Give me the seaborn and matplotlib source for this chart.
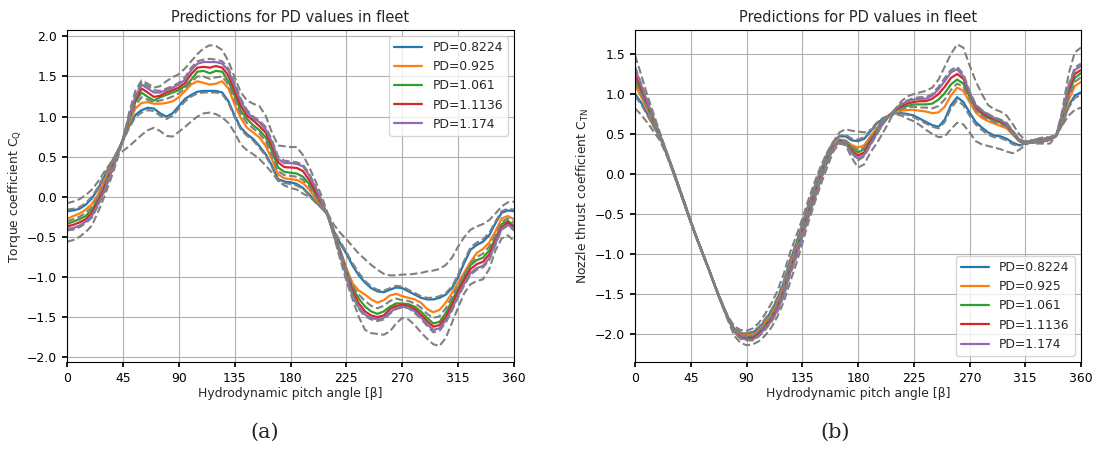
import numpy as np
import pandas as pd
import matplotlib
matplotlib.use("Agg")
import matplotlib.pyplot as plt
import seaborn as sns

ANGLES = list(range(0, 361, 5))
PD_LABELS = ["PD=0.8224", "PD=0.925", "PD=1.061", "PD=1.1136", "PD=1.174"]
REF_LABELS = ["PD=0.6", "PD=0.8", "PD=1.0", "PD=1.2", "PD=1.4"]
XTICKS = [0, 45, 90, 135, 180, 225, 270, 315, 360]
YTICKS_A = [-2.0, -1.5, -1.0, -0.5, 0.0, 0.5, 1.0, 1.5, 2.0]
YTICKS_B = [-2.0, -1.5, -1.0, -0.5, 0.0, 0.5, 1.0, 1.5]

# ---------------- Panel (a): torque coefficient CQ ----------------
cq_0_8224 = [-0.18,-0.17,-0.15,-0.10,-0.02,0.10,0.25,0.40,0.55,0.70,
             0.88,1.02,1.08,1.11,1.10,1.04,1.00,1.04,1.13,1.22,
             1.27,1.31,1.32,1.32,1.32,1.30,1.19,1.01,0.86,0.78,
             0.72,0.63,0.53,0.39,0.22,0.19,0.18,0.16,0.11,0.03,
             -0.06,-0.14,-0.22,-0.43,-0.58,-0.71,-0.86,-0.98,-1.07,-1.14,
             -1.18,-1.19,-1.16,-1.13,-1.14,-1.18,-1.22,-1.26,-1.28,-1.28,
             -1.26,-1.22,-1.14,-1.00,-0.82,-0.66,-0.60,-0.56,-0.48,-0.33,
             -0.20,-0.17,-0.18]
cq_0_925 = [-0.28,-0.24,-0.21,-0.16,-0.09,0.03,0.20,0.37,0.53,0.70,
            0.92,1.10,1.17,1.18,1.16,1.16,1.17,1.19,1.24,1.32,
            1.40,1.44,1.42,1.40,1.41,1.44,1.35,1.15,0.98,0.86,
            0.80,0.74,0.63,0.47,0.28,0.23,0.22,0.21,0.17,0.09,
            -0.02,-0.12,-0.23,-0.45,-0.66,-0.89,-1.08,-1.17,-1.22,-1.28,
            -1.32,-1.29,-1.23,-1.21,-1.24,-1.26,-1.28,-1.32,-1.40,-1.44,
            -1.41,-1.32,-1.20,-1.07,-0.94,-0.81,-0.70,-0.65,-0.57,-0.43,
            -0.27,-0.24,-0.28]
cq_1_061 = [-0.34,-0.31,-0.28,-0.24,-0.16,-0.03,0.14,0.33,0.51,0.71,
            0.96,1.18,1.30,1.245,1.20,1.24,1.27,1.30,1.33,1.38,
            1.46,1.56,1.57,1.54,1.57,1.56,1.44,1.26,1.07,0.97,
            0.89,0.83,0.74,0.57,0.365,0.31,0.30,0.29,0.25,0.16,
            0.03,-0.10,-0.23,-0.46,-0.68,-0.92,-1.14,-1.27,-1.37,-1.43,
            -1.46,-1.43,-1.37,-1.33,-1.33,-1.34,-1.37,-1.43,-1.51,-1.58,
            -1.56,-1.45,-1.30,-1.14,-0.99,-0.85,-0.79,-0.76,-0.67,-0.52,
            -0.34,-0.30,-0.36]
cq_1_1136 = [-0.37,-0.35,-0.32,-0.28,-0.20,-0.06,0.11,0.31,0.50,0.72,
             0.98,1.21,1.35,1.30,1.245,1.26,1.30,1.33,1.36,1.42,
             1.53,1.61,1.62,1.61,1.63,1.61,1.51,1.32,1.13,1.01,
             0.95,0.88,0.80,0.63,0.43,0.37,0.365,0.36,0.32,0.21,
             0.07,-0.08,-0.24,-0.47,-0.70,-0.95,-1.18,-1.33,-1.43,-1.48,
             -1.50,-1.48,-1.40,-1.36,-1.35,-1.36,-1.40,-1.47,-1.55,-1.62,
             -1.60,-1.50,-1.35,-1.18,-1.03,-0.90,-0.84,-0.81,-0.72,-0.55,
             -0.38,-0.32,-0.38]
cq_1_174 = [-0.40,-0.39,-0.36,-0.31,-0.24,-0.09,0.07,0.28,0.48,0.72,
            1.00,1.24,1.40,1.35,1.30,1.30,1.33,1.36,1.40,1.46,
            1.58,1.66,1.68,1.68,1.68,1.66,1.57,1.38,1.19,1.05,
            0.98,0.93,0.84,0.68,0.47,0.42,0.42,0.41,0.38,0.27,
            0.12,-0.06,-0.24,-0.48,-0.72,-0.98,-1.22,-1.38,-1.47,-1.51,
            -1.53,-1.51,-1.44,-1.39,-1.37,-1.38,-1.43,-1.50,-1.59,-1.66,
            -1.64,-1.54,-1.40,-1.23,-1.08,-0.95,-0.89,-0.86,-0.77,-0.58,
            -0.40,-0.35,-0.40]
cq_ref_0_6 = [-0.08,-0.06,-0.03,0.02,0.09,0.19,0.31,0.42,0.51,0.57,
              0.63,0.70,0.77,0.83,0.86,0.82,0.76,0.75,0.81,0.87,
              0.94,1.00,1.04,1.05,1.03,0.99,0.92,0.80,0.65,0.58,
              0.53,0.47,0.39,0.30,0.20,0.14,0.11,0.09,0.04,0.00,
              -0.06,-0.13,-0.21,-0.35,-0.45,-0.53,-0.62,-0.71,-0.78,-0.85,
              -0.91,-0.96,-0.98,-0.98,-0.97,-0.97,-0.96,-0.95,-0.93,-0.92,
              -0.90,-0.85,-0.76,-0.62,-0.50,-0.41,-0.37,-0.34,-0.29,-0.21,
              -0.12,-0.07,-0.06]
cq_ref_0_8 = [-0.16,-0.15,-0.13,-0.08,0.00,0.12,0.27,0.41,0.55,0.69,
              0.86,0.99,1.05,1.08,1.07,1.01,0.97,1.01,1.10,1.19,
              1.25,1.29,1.30,1.30,1.30,1.28,1.17,0.99,0.84,0.76,
              0.70,0.61,0.51,0.37,0.20,0.17,0.16,0.14,0.10,0.02,
              -0.07,-0.14,-0.22,-0.42,-0.56,-0.69,-0.83,-0.95,-1.05,-1.12,
              -1.16,-1.17,-1.14,-1.11,-1.12,-1.16,-1.20,-1.24,-1.26,-1.26,
              -1.24,-1.20,-1.12,-0.97,-0.79,-0.63,-0.57,-0.53,-0.45,-0.31,
              -0.18,-0.15,-0.16]
cq_ref_1_0 = [-0.31,-0.28,-0.25,-0.20,-0.13,0.00,0.17,0.35,0.52,0.71,
              0.94,1.14,1.24,1.21,1.18,1.20,1.22,1.25,1.29,1.35,
              1.43,1.50,1.50,1.47,1.49,1.50,1.40,1.21,1.03,0.92,
              0.85,0.79,0.69,0.52,0.32,0.27,0.26,0.25,0.21,0.13,
              0.01,-0.11,-0.23,-0.46,-0.67,-0.91,-1.11,-1.22,-1.30,-1.36,
              -1.39,-1.36,-1.30,-1.27,-1.29,-1.30,-1.33,-1.38,-1.46,-1.51,
              -1.49,-1.39,-1.25,-1.11,-0.97,-0.83,-0.75,-0.71,-0.62,-0.48,
              -0.31,-0.27,-0.32]
cq_ref_1_2 = [-0.42,-0.41,-0.38,-0.33,-0.26,-0.11,0.06,0.27,0.48,0.72,
              1.01,1.26,1.43,1.38,1.33,1.32,1.35,1.38,1.42,1.49,
              1.61,1.69,1.71,1.72,1.71,1.69,1.60,1.42,1.22,1.08,
              1.00,0.95,0.87,0.71,0.50,0.45,0.44,0.43,0.40,0.29,
              0.13,-0.05,-0.24,-0.49,-0.73,-1.00,-1.24,-1.40,-1.49,-1.53,
              -1.55,-1.53,-1.46,-1.40,-1.38,-1.39,-1.45,-1.52,-1.61,-1.69,
              -1.67,-1.57,-1.42,-1.25,-1.10,-0.97,-0.91,-0.88,-0.79,-0.60,
              -0.41,-0.36,-0.42]
cq_ref_1_4 = [-0.56,-0.54,-0.50,-0.44,-0.36,-0.19,0.00,0.21,0.44,0.70,
              1.05,1.32,1.45,1.41,1.36,1.38,1.44,1.49,1.53,1.60,
              1.69,1.78,1.85,1.89,1.88,1.83,1.69,1.49,1.30,1.20,
              1.16,1.13,1.01,0.80,0.64,0.63,0.62,0.62,0.52,0.37,
              0.20,0.01,-0.21,-0.50,-0.78,-1.05,-1.28,-1.50,-1.66,-1.70,
              -1.71,-1.72,-1.68,-1.58,-1.51,-1.53,-1.60,-1.69,-1.77,-1.84,
              -1.86,-1.76,-1.57,-1.38,-1.20,-1.09,-1.05,-1.03,-0.90,-0.67,
              -0.52,-0.48,-0.55]

# ---------------- Panel (b): nozzle thrust coefficient CTN ----------------
ctn_0_8224 = [1.00,0.89,0.75,0.60,0.46,0.27,0.06,-0.16,-0.38,-0.60,
              -0.81,-1.01,-1.21,-1.42,-1.61,-1.79,-1.93,-1.99,-2.00,-1.98,
              -1.93,-1.83,-1.72,-1.56,-1.36,-1.10,-0.88,-0.64,-0.40,-0.17,
              0.04,0.24,0.40,0.47,0.47,0.42,0.41,0.44,0.53,0.63,
              0.69,0.73,0.76,0.76,0.75,0.73,0.69,0.65,0.61,0.59,
              0.68,0.86,0.96,0.90,0.77,0.65,0.58,0.52,0.48,0.47,
              0.44,0.39,0.36,0.38,0.42,0.43,0.44,0.45,0.48,0.63,
              0.85,0.98,1.02]
ctn_0_925 = [1.11,0.96,0.80,0.63,0.47,0.27,0.06,-0.16,-0.38,-0.60,
             -0.81,-1.01,-1.21,-1.42,-1.62,-1.80,-1.94,-2.01,-2.02,-2.01,
             -1.96,-1.86,-1.76,-1.61,-1.41,-1.15,-0.93,-0.68,-0.44,-0.21,
             0.01,0.21,0.36,0.43,0.42,0.36,0.33,0.36,0.47,0.57,
             0.67,0.73,0.77,0.79,0.80,0.80,0.79,0.78,0.76,0.77,
             0.84,0.98,1.08,1.04,0.90,0.77,0.70,0.66,0.63,0.60,
             0.57,0.49,0.41,0.38,0.39,0.40,0.41,0.43,0.47,0.66,
             0.92,1.10,1.15]
ctn_1_061 = [1.19,1.02,0.84,0.66,0.48,0.28,0.07,-0.15,-0.37,-0.60,
             -0.81,-1.01,-1.21,-1.42,-1.62,-1.80,-1.95,-2.03,-2.04,-2.03,
             -1.98,-1.89,-1.79,-1.64,-1.45,-1.19,-0.97,-0.71,-0.47,-0.24,
             -0.02,0.19,0.35,0.42,0.41,0.32,0.27,0.31,0.43,0.54,
             0.65,0.73,0.79,0.83,0.85,0.87,0.87,0.87,0.88,0.93,
             1.01,1.12,1.18,1.13,0.97,0.82,0.75,0.70,0.67,0.64,
             0.60,0.51,0.42,0.39,0.39,0.40,0.41,0.43,0.48,0.70,
             1.00,1.20,1.26]
ctn_1_1136 = [1.25,1.07,0.87,0.68,0.49,0.28,0.07,-0.15,-0.37,-0.60,
              -0.81,-1.01,-1.21,-1.42,-1.62,-1.81,-1.96,-2.04,-2.06,-2.05,
              -2.00,-1.91,-1.81,-1.67,-1.48,-1.22,-1.00,-0.74,-0.50,-0.27,
              -0.04,0.17,0.34,0.41,0.39,0.29,0.23,0.27,0.40,0.52,
              0.64,0.73,0.80,0.85,0.88,0.90,0.91,0.91,0.94,1.00,
              1.09,1.20,1.25,1.19,1.01,0.84,0.77,0.72,0.69,0.66,
              0.62,0.52,0.43,0.40,0.40,0.40,0.41,0.43,0.48,0.72,
              1.05,1.25,1.30]
ctn_1_174 = [1.31,1.11,0.90,0.70,0.50,0.29,0.08,-0.14,-0.36,-0.60,
             -0.81,-1.01,-1.21,-1.42,-1.62,-1.81,-1.97,-2.05,-2.07,-2.07,
             -2.02,-1.93,-1.84,-1.70,-1.51,-1.25,-1.03,-0.77,-0.53,-0.30,
             -0.06,0.15,0.33,0.40,0.38,0.27,0.19,0.24,0.37,0.50,
             0.63,0.72,0.81,0.87,0.91,0.93,0.94,0.94,0.98,1.06,
             1.16,1.27,1.31,1.22,1.02,0.86,0.79,0.74,0.70,0.67,
             0.63,0.53,0.43,0.40,0.40,0.40,0.41,0.43,0.48,0.75,
             1.09,1.30,1.35]
ctn_ref_0_6 = [0.82,0.74,0.64,0.53,0.42,0.25,0.05,-0.17,-0.39,-0.61,
               -0.82,-1.02,-1.21,-1.41,-1.60,-1.78,-1.90,-1.95,-1.96,-1.93,
               -1.86,-1.75,-1.62,-1.46,-1.25,-0.99,-0.78,-0.56,-0.32,-0.10,
               0.10,0.27,0.40,0.52,0.56,0.54,0.53,0.52,0.55,0.59,
               0.66,0.72,0.75,0.73,0.69,0.66,0.61,0.55,0.50,0.46,
               0.47,0.56,0.64,0.62,0.52,0.41,0.37,0.35,0.33,0.31,
               0.28,0.26,0.30,0.36,0.41,0.44,0.46,0.46,0.50,0.61,
               0.73,0.80,0.83]
ctn_ref_0_8 = [0.97,0.87,0.73,0.59,0.45,0.27,0.06,-0.16,-0.38,-0.60,
               -0.81,-1.01,-1.21,-1.42,-1.61,-1.79,-1.92,-1.98,-1.99,-1.97,
               -1.91,-1.81,-1.70,-1.54,-1.34,-1.08,-0.86,-0.62,-0.38,-0.15,
               0.06,0.25,0.40,0.48,0.49,0.44,0.43,0.46,0.55,0.64,
               0.70,0.73,0.76,0.75,0.74,0.71,0.67,0.63,0.59,0.57,
               0.65,0.82,0.92,0.86,0.73,0.62,0.55,0.49,0.46,0.45,
               0.42,0.37,0.35,0.38,0.42,0.43,0.44,0.45,0.48,0.62,
               0.83,0.95,0.99]
ctn_ref_1_0 = [1.15,0.99,0.82,0.65,0.48,0.28,0.07,-0.15,-0.37,-0.60,
               -0.81,-1.01,-1.21,-1.42,-1.62,-1.80,-1.95,-2.02,-2.03,-2.02,
               -1.97,-1.88,-1.78,-1.63,-1.43,-1.17,-0.95,-0.70,-0.46,-0.23,
               -0.01,0.20,0.35,0.42,0.41,0.34,0.30,0.33,0.45,0.55,
               0.66,0.73,0.78,0.81,0.83,0.84,0.83,0.83,0.82,0.85,
               0.93,1.05,1.13,1.09,0.94,0.80,0.73,0.68,0.65,0.62,
               0.59,0.50,0.41,0.38,0.39,0.40,0.41,0.43,0.47,0.68,
               0.96,1.15,1.21]
ctn_ref_1_2 = [1.34,1.13,0.92,0.71,0.50,0.29,0.08,-0.14,-0.36,-0.60,
               -0.81,-1.01,-1.21,-1.42,-1.62,-1.81,-1.98,-2.06,-2.08,-2.08,
               -2.03,-1.95,-1.85,-1.72,-1.53,-1.27,-1.05,-0.79,-0.54,-0.31,
               -0.07,0.14,0.32,0.40,0.38,0.26,0.17,0.22,0.36,0.49,
               0.62,0.72,0.81,0.88,0.92,0.95,0.96,0.96,1.00,1.09,
               1.20,1.30,1.34,1.25,1.04,0.87,0.80,0.75,0.71,0.68,
               0.64,0.54,0.44,0.40,0.40,0.40,0.41,0.43,0.48,0.76,
               1.11,1.33,1.38]
ctn_ref_1_4 = [1.48,1.24,0.98,0.75,0.52,0.30,0.08,-0.14,-0.36,-0.59,
               -0.80,-1.00,-1.21,-1.42,-1.63,-1.83,-2.02,-2.11,-2.14,-2.13,
               -2.09,-2.02,-1.92,-1.78,-1.60,-1.36,-1.13,-0.87,-0.60,-0.36,
               -0.13,0.08,0.28,0.38,0.36,0.20,0.08,0.12,0.27,0.38,
               0.51,0.65,0.81,0.91,0.97,1.00,1.02,1.04,1.08,1.18,
               1.34,1.50,1.62,1.58,1.36,1.16,1.00,0.86,0.81,0.78,
               0.73,0.62,0.50,0.42,0.39,0.38,0.38,0.38,0.48,0.80,
               1.25,1.52,1.58]

PRED_A = [cq_0_8224, cq_0_925, cq_1_061, cq_1_1136, cq_1_174]
REF_A = [cq_ref_0_6, cq_ref_0_8, cq_ref_1_0, cq_ref_1_2, cq_ref_1_4]
PRED_B = [ctn_0_8224, ctn_0_925, ctn_1_061, ctn_1_1136, ctn_1_174]
REF_B = [ctn_ref_0_6, ctn_ref_0_8, ctn_ref_1_0, ctn_ref_1_2, ctn_ref_1_4]


def long_df(series, labels):
    frames = []
    for lab, vals in zip(labels, series):
        frames.append(pd.DataFrame({"angle": ANGLES, "value": vals, "series": lab}))
    return pd.concat(frames, ignore_index=True)


sns.set_theme(style="ticks")
plt.rcParams.update({
    "font.family": ["DejaVu Sans"],
    "axes.edgecolor": "black",
    "axes.linewidth": 0.8,
    "axes.grid": True,
    "grid.color": "#b0b0b0",
    "grid.linewidth": 0.8,
    "xtick.labelsize": 8.9,
    "ytick.labelsize": 8.9,
    "axes.labelsize": 8.9,
    "axes.titlesize": 10.5,
    "legend.fontsize": 8.9,
    "xtick.major.size": 3.5,
    "ytick.major.size": 3.5,
    "xtick.color": "black",
    "ytick.color": "black",
})

palette = sns.color_palette("tab10", 5)

fig = plt.figure(figsize=(10.97, 4.5), dpi=100)
ax_a = fig.add_axes([0.0611, 0.1956, 0.4075, 0.7378])
ax_b = fig.add_axes([0.5789, 0.1956, 0.4065, 0.7378])

panels = [
    (ax_a, PRED_A, REF_A, "Torque coefficient C$_\\mathrm{Q}$", YTICKS_A, (-2.06, 2.08), "upper right"),
    (ax_b, PRED_B, REF_B, "Nozzle thrust coefficient C$_\\mathrm{TN}$", YTICKS_B, (-2.35, 1.80), "lower right"),
]

for ax, pred, ref, ylab, yt, ylim, loc in panels:
    dfp = long_df(pred, PD_LABELS)
    dfr = long_df(ref, REF_LABELS)
    sns.lineplot(data=dfp, x="angle", y="value", hue="series", hue_order=PD_LABELS,
                 palette=palette, linewidth=1.6, estimator=None, sort=False, ax=ax)
    sns.lineplot(data=dfr, x="angle", y="value", units="series", estimator=None,
                 color="grey", linestyle="--", linewidth=1.5, sort=False,
                 legend=False, ax=ax)
    ax.set_xlim(0, 360)
    ax.set_ylim(*ylim)
    ax.set_xticks(XTICKS)
    ax.set_yticks(yt)
    ax.set_xlabel("Hydrodynamic pitch angle [β]", labelpad=2)
    ax.set_ylabel(ylab, labelpad=3)
    ax.set_title("Predictions for PD values in fleet", pad=6)
    ax.grid(True, color="#b0b0b0", linewidth=0.8)
    for s in ax.spines.values():
        s.set_visible(True)
        s.set_color("black")
    ax.legend(loc=loc, frameon=True, fancybox=True, framealpha=0.8,
              edgecolor="#cccccc", handlelength=2.3)

fig.text(0.2416, 0.04, "(a)", family="DejaVu Serif", fontsize=15, ha="center", va="center")
fig.text(0.761, 0.04, "(b)", family="DejaVu Serif", fontsize=15, ha="center", va="center")

fig.savefig("out.png", dpi=100)
